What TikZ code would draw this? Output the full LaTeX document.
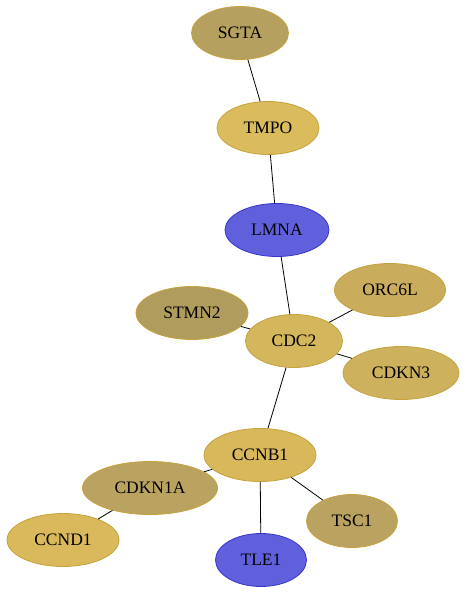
\documentclass[tikz,border=0pt]{standalone}
\usepackage{fontspec}
\setmainfont{Liberation Serif}
\usepackage{tikz}
\usetikzlibrary{shapes.geometric}
\definecolor{goldA}{HTML}{B5A060}
\definecolor{goldB}{HTML}{DBBC5C}
\definecolor{goldC}{HTML}{B09C5C}
\definecolor{goldD}{HTML}{D4B65C}
\definecolor{goldE}{HTML}{C9AD5C}
\definecolor{goldF}{HTML}{CDB15C}
\definecolor{goldG}{HTML}{D8B85B}
\definecolor{goldH}{HTML}{BAA261}
\definecolor{goldI}{HTML}{D9B95B}
\definecolor{goldrim}{HTML}{C4A23C}
\definecolor{blueA}{HTML}{6060DD}
\definecolor{bluerim}{HTML}{3535CC}

\begin{document}
\begin{tikzpicture}[x=1pt,y=-1pt,
  gene/.style={ellipse,draw=goldrim,line width=0.8pt,inner sep=0pt,
    minimum height=53pt,font=\fontsize{17.5}{20}\selectfont},
  bluegene/.style={gene,draw=bluerim,fill=blueA},
  link/.style={line width=0.8pt}]
\useasboundingbox (0,0) rectangle (465,593);

\node[gene,fill=goldA,minimum width=97pt] (sgta) at (240,33) {SGTA};
\node[gene,fill=goldB,minimum width=102pt] (tmpo) at (268,128) {TMPO};
\node[bluegene,minimum width=104pt] (lmna) at (277,230) {LMNA};
\node[gene,fill=goldE,minimum width=111pt] (orc6l) at (390,290) {ORC6L};
\node[gene,fill=goldC,minimum width=112pt] (stmn2) at (192,313) {STMN2};
\node[gene,fill=goldD,minimum width=97pt] (cdc2) at (294,341) {CDC2};
\node[gene,fill=goldF,minimum width=116pt] (cdkn3) at (401,373) {CDKN3};
\node[gene,fill=goldG,minimum width=112pt] (ccnb1) at (260,455) {CCNB1};
\node[gene,fill=goldH,minimum width=135pt] (cdkn1a) at (150,488) {CDKN1A};
\node[gene,fill=goldH,minimum width=91pt] (tsc1) at (352,521) {TSC1};
\node[gene,fill=goldI,minimum width=112pt] (ccnd1) at (63,540) {CCND1};
\node[bluegene,minimum width=91pt] (tle1) at (261,560) {TLE1};

% edges
\draw[link] (sgta) -- (tmpo);
\draw[link] (tmpo) -- (lmna);
\draw[link] (lmna) -- (cdc2);
\draw[link] (stmn2) -- (cdc2);
\draw[link] (orc6l) -- (cdc2);
\draw[link] (cdkn3) -- (cdc2);
\draw[link] (cdc2) -- (ccnb1);
\draw[link] (cdkn1a) -- (ccnb1);
\draw[link] (tsc1) -- (ccnb1);
\draw[link] (tle1) -- (ccnb1);
\draw[link] (ccnd1) -- (cdkn1a);
\end{tikzpicture}
\end{document}
